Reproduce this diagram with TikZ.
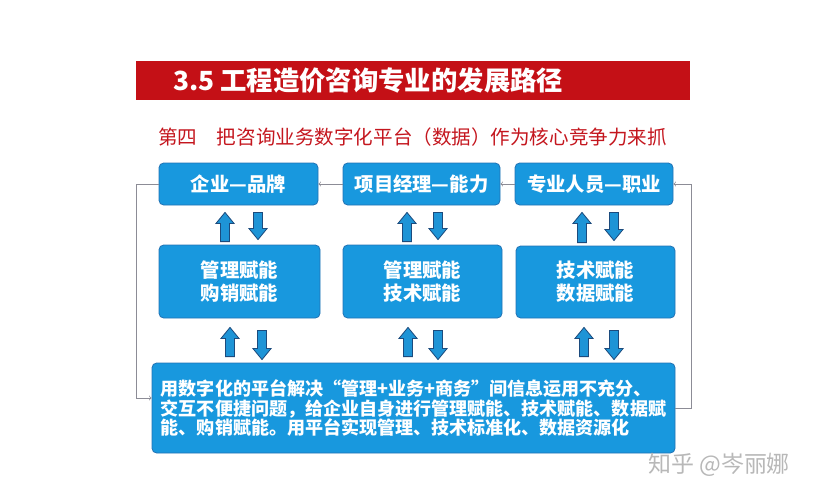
\documentclass[tikz,border=0pt]{standalone}
\usepackage{fontspec}
\setmainfont{Noto Sans CJK SC}
\usetikzlibrary{arrows}
\usetikzlibrary{calc}
\usetikzlibrary{positioning}
\definecolor{boxblue}{RGB}{24,152,222}
\definecolor{boxedge}{RGB}{35,115,180}
\definecolor{arrblue}{RGB}{30,148,214}
\definecolor{arredge}{RGB}{28,75,125}
\definecolor{bannerred}{RGB}{196,16,22}
\definecolor{subred}{RGB}{196,22,30}
\definecolor{linkgray}{RGB}{140,140,150}
\newcommand\pxu{0.03cm}
\newcommand\fatarr[2]{\draw[fatarrow] let \p1=#1, \p2=#2, \n1={sign(\y2-\y1)} in
  ({\x1-3.8pt},\y1) -- ({\x1-3.8pt},{\y2-\n1*9.4pt}) -- ({\x1-7.7pt},{\y2-\n1*9.4pt})
  -- (\x1,\y2) -- ({\x1+7.7pt},{\y2-\n1*9.4pt}) -- ({\x1+3.8pt},{\y2-\n1*9.4pt})
  -- ({\x1+3.8pt},\y1) -- cycle;}
\tikzset{
  box/.style={draw=boxedge, line width=0.7pt, fill=boxblue, rounded corners=4pt,
    text=white, inner sep=0pt, font=\bfseries\fontsize{16.5}{19.6}\selectfont},
  fatarrow/.style={draw=arredge, line width=0.7pt, fill=arrblue, line join=miter},
  link/.style={draw=linkgray, line width=0.6pt, ->, >=to}
}
\begin{document}
\begin{tikzpicture}[x=0.03cm, y=-0.03cm]
\useasboundingbox (0,0) rectangle (824,500);
\node[fill=bannerred, minimum width=554*\pxu, minimum height=39*\pxu, inner sep=0pt] (banner) at (413,80.5) {};
\node[anchor=west, inner sep=0pt, text=white, font=\bfseries\fontsize{22.5}{27}\selectfont] (ttl) at ([xshift=37*\pxu]banner.west) {3.5 工程造价咨询专业的发展路径};
\node[anchor=west, inner sep=0pt, text=subred, font=\fontsize{16.7}{20}\selectfont] (sub) at (158,137) {第四　把咨询业务数字化平台（数据）作为核心竞争力来抓};

\node[box, minimum width=159*\pxu, minimum height=42*\pxu] (t1) at (238.5,184) {企业—品牌};
\node[box, minimum width=157*\pxu, minimum height=42*\pxu] (t2) at (421.5,184) {项目经理—能力};
\node[box, minimum width=158*\pxu, minimum height=42*\pxu] (t3) at (594,184) {专业人员—职业};

\node[box, align=center, minimum width=161*\pxu, minimum height=73*\pxu] (m1) at (239.5,281.5) {管理赋能\\购销赋能};
\node[box, align=center, minimum width=159*\pxu, minimum height=73*\pxu] (m2) at (422.5,281.5) {管理赋能\\技术赋能};
\node[box, align=center, minimum width=159*\pxu, minimum height=72*\pxu] (m3) at (595.5,282) {技术赋能\\数据赋能};

\node[box, align=left, minimum width=523*\pxu, minimum height=90*\pxu, font=\bfseries\fontsize{15.4}{16.6}\selectfont] (pf) at (413.5,408) {用数字化的平台解决“管理+业务+商务”间信息运用不充分、\\交互不便捷问题，给企业自身进行管理赋能、技术赋能、数据赋\\能、购销赋能。用平台实现管理、技术标准化、数据资源化};

\node[anchor=west, inner sep=0pt, text=black!28, font=\fontsize{19.6}{22}\selectfont] (wm) at (648,465) {知乎 @岑丽娜};

\fatarr{($(m1.north)+(-14.5,-3)$)}{($(t1.south)+(-14.5,7)$)}
\fatarr{($(t1.south)+(19.5,7)$)}{($(m1.north)+(18.5,-5)$)}
\fatarr{($(m2.north)+(-15.5,-3)$)}{($(t2.south)+(-14.5,7)$)}
\fatarr{($(t2.south)+(16.5,7)$)}{($(m2.north)+(15.5,-5)$)}
\fatarr{($(m3.north)+(-13.5,-3)$)}{($(t3.south)+(-12,7)$)}
\fatarr{($(t3.south)+(20,7)$)}{($(m3.north)+(18.5,-5)$)}

\fatarr{($(pf.north)+(-183.5,-6)$)}{($(m1.south)+(-9.5,9)$)}
\fatarr{($(m1.south)+(22.5,12)$)}{($(pf.north)+(-151.5,-3)$)}
\fatarr{($(pf.north)+(-5.5,-6)$)}{($(m2.south)+(-14.5,9)$)}
\fatarr{($(m2.south)+(15.5,12)$)}{($(pf.north)+(24.5,-3)$)}
\fatarr{($(pf.north)+(170.5,-6)$)}{($(m3.south)+(-11.5,9)$)}
\fatarr{($(m3.south)+(18.5,12)$)}{($(pf.north)+(200.5,-3)$)}

\coordinate (lp) at (136,398);
\coordinate (rp) at (691,408);
\draw[link] (t2.west) -- (t1.east);
\draw[link] (t3.west) -- (t2.east);
\draw[link] (t1.west) -| (lp) -- (lp -| pf.west);
\draw[link] (pf.east) -- (rp) |- (t3.east);
\end{tikzpicture}
\end{document}
